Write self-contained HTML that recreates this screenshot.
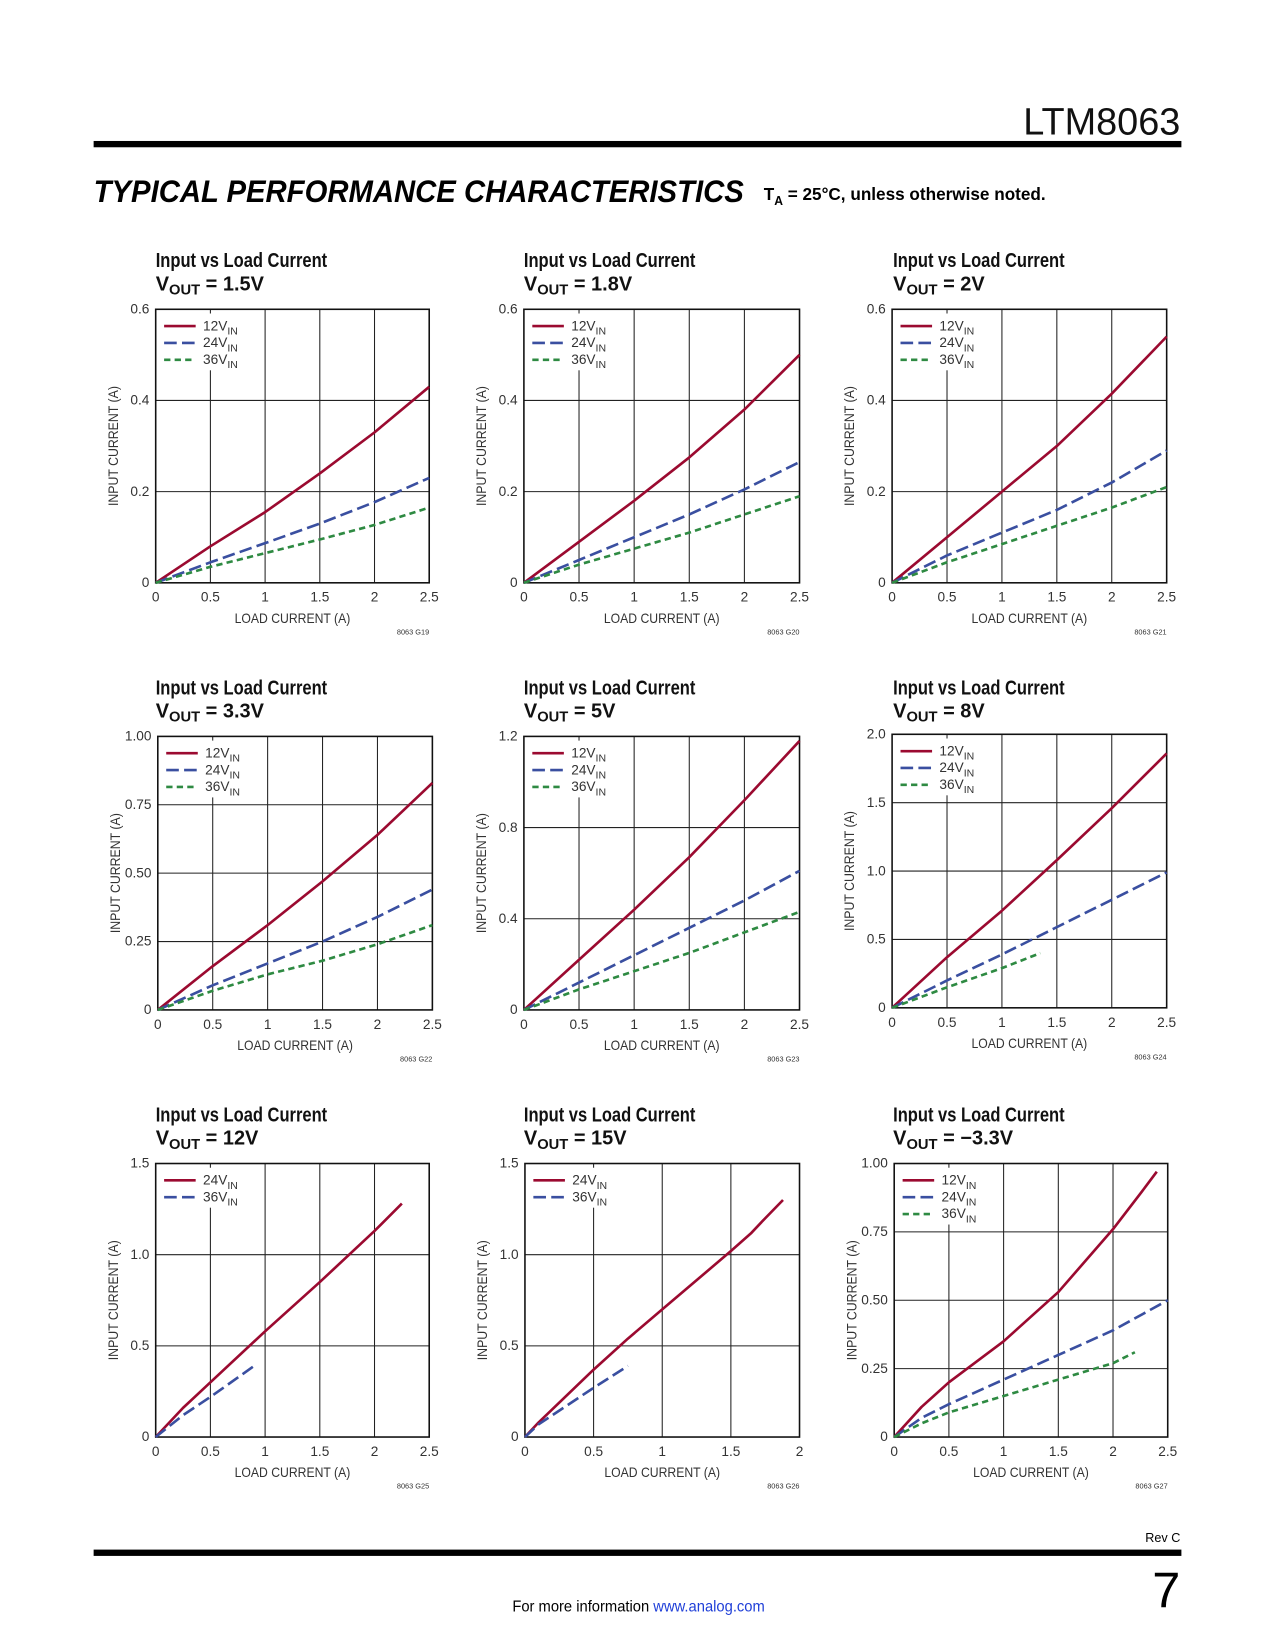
<!DOCTYPE html>
<html><head><meta charset="utf-8"><style>
html,body{margin:0;padding:0;background:#fff;}
svg{display:block;font-family:"Liberation Sans Narrow","Liberation Sans",sans-serif;}
</style></head><body>
<svg id="page" width="1275" height="1650" viewBox="0 0 1275 1650" xmlns="http://www.w3.org/2000/svg">
<g transform="scale(1.052)">
<text x="1122" y="128" text-anchor="end" font-family="Liberation Sans, sans-serif" font-size="36" fill="#111">LTM8063</text>
<rect x="89" y="134" width="1034" height="6" fill="#000"/>
<text x="89" y="192" font-family="Liberation Sans, sans-serif" font-weight="bold" font-style="italic" font-size="30" fill="#000" textLength="618" lengthAdjust="spacingAndGlyphs">TYPICAL PERFORMANCE CHARACTERISTICS</text>
<text x="726" y="190" font-weight="bold" font-size="17" fill="#000" textLength="268" lengthAdjust="spacingAndGlyphs">T<tspan font-size="12" dy="5">A</tspan><tspan dy="-5"> = 25°C, unless otherwise noted.</tspan></text>
<rect x="89" y="1473" width="1034" height="6" fill="#000"/>
<text x="1122" y="1466" text-anchor="end" font-size="12" fill="#000">Rev C</text>
<text x="1122" y="1528" text-anchor="end" font-family="Liberation Sans, sans-serif" font-size="48" fill="#000">7</text>
<text x="487" y="1532" font-size="15" fill="#000" textLength="240" lengthAdjust="spacingAndGlyphs">For more information <tspan fill="#1f3fd8">www.analog.com</tspan></text>
<g id="charts"></g>
</g>
</svg>
<script>
const titles=["1.5V","1.8V","2V","3.3V","5V","8V","12V","15V","\u22123.3V"];
const figIds=["G19","G20","G21","G22","G23","G24","G25","G26","G27"];
const xMaxes=[2.5,2.5,2.5,2.5,2.5,2.5,2.5,2,2.5];
const yMaxes=[0.6,0.6,0.6,1.0,1.2,2.0,1.5,1.5,1.0];
const yTickLabels=[["0","0.2","0.4","0.6"],["0","0.2","0.4","0.6"],["0","0.2","0.4","0.6"],["0","0.25","0.50","0.75","1.00"],["0","0.4","0.8","1.2"],["0","0.5","1.0","1.5","2.0"],["0","0.5","1.0","1.5"],["0","0.5","1.0","1.5"],["0","0.25","0.50","0.75","1.00"]];
const xTickLabels=[["0","0.5","1","1.5","2","2.5"],["0","0.5","1","1.5","2","2.5"],["0","0.5","1","1.5","2","2.5"],["0","0.5","1","1.5","2","2.5"],["0","0.5","1","1.5","2","2.5"],["0","0.5","1","1.5","2","2.5"],["0","0.5","1","1.5","2","2.5"],["0","0.5","1","1.5","2"],["0","0.5","1","1.5","2","2.5"]];
const seriesNames=[["12","24","36"],["12","24","36"],["12","24","36"],["12","24","36"],["12","24","36"],["12","24","36"],["24","36"],["24","36"],["12","24","36"]];
const seriesStyles=[["red","blue","green"],["red","blue","green"],["red","blue","green"],["red","blue","green"],["red","blue","green"],["red","blue","green"],["red","blue"],["red","blue"],["red","blue","green"]];
const xStd=[0,0.5,1,1.5,2,2.5];
const seriesX=[
 [xStd,xStd,xStd],[xStd,xStd,xStd],[xStd,xStd,xStd],[xStd,xStd,xStd],[xStd,xStd,xStd],
 [xStd,xStd,[0,0.5,1,1.35]],
 [[0,0.25,0.5,1,1.5,2,2.25],[0,0.25,0.5,0.9]],
 [[0,0.1,0.5,0.75,1,1.5,1.65,1.75,1.88],[0,0.1,0.5,0.75]],
 [[0,0.25,0.5,1,1.5,2,2.25,2.4],[0,0.25,0.5,1,1.5,2,2.5],[0,0.25,0.5,1,1.5,2,2.2]]
];
const seriesY=[
 [[0,0.08,0.155,0.24,0.33,0.43],[0,0.045,0.087,0.13,0.177,0.23],[0,0.035,0.065,0.095,0.127,0.165]],
 [[0,0.09,0.18,0.275,0.38,0.5],[0,0.05,0.1,0.15,0.205,0.265],[0,0.04,0.075,0.11,0.15,0.19]],
 [[0,0.1,0.2,0.3,0.415,0.54],[0,0.06,0.11,0.16,0.22,0.29],[0,0.045,0.085,0.125,0.165,0.21]],
 [[0,0.16,0.31,0.47,0.64,0.83],[0,0.09,0.17,0.25,0.34,0.44],[0,0.07,0.13,0.18,0.24,0.31]],
 [[0,0.22,0.44,0.67,0.92,1.18],[0,0.12,0.24,0.36,0.48,0.61],[0,0.09,0.17,0.25,0.34,0.43]],
 [[0,0.37,0.71,1.08,1.46,1.86],[0,0.2,0.39,0.59,0.79,0.99],[0,0.15,0.29,0.4]],
 [[0,0.16,0.3,0.58,0.85,1.13,1.28],[0,0.12,0.22,0.39]],
 [[0,0.08,0.37,0.54,0.7,1.02,1.12,1.2,1.3],[0,0.07,0.27,0.39]],
 [[0,0.11,0.2,0.35,0.53,0.76,0.89,0.97],[0,0.07,0.12,0.21,0.3,0.39,0.5],[0,0.05,0.09,0.15,0.21,0.27,0.31]]
];
const boxes=[[148,294,408,554],[498,294,760,554],[848,294,1109,554],[150,700,411,960],[498,700,760,960],[848,698,1109,958],[148,1106,408,1366],[499,1106,760,1366],[850,1106,1110,1366]];
const titleX=[148,498,849,148,498,849,148,498,849];
const titleY=[254,254,254,660,660,660,1066,1066,1066];
const styles={"red":{c:"#9b0a30",d:"",w:2.5},"blue":{c:"#3a4fa0",d:"12,5",w:2.5},"green":{c:"#2e8a42",d:"6,4",w:2.5}};
const NS="http://www.w3.org/2000/svg";
const root=document.getElementById("charts");
function mk(tag,attrs,parent){const e=document.createElementNS(NS,tag);for(const k in attrs)e.setAttribute(k,attrs[k]);parent.appendChild(e);return e;}
for(let i=0;i<9;i++){
 const [x0,y0,x1,y1]=boxes[i];
 const xs=v=>x0+(v/xMaxes[i])*(x1-x0);
 const ys=v=>y1-(v/yMaxes[i])*(y1-y0);
 const g=mk("g",{},root);
 
 
 const t1=mk("text",{x:titleX[i],y:titleY[i],"font-weight":"bold","font-size":"19",fill:"#111",textLength:"163",lengthAdjust:"spacingAndGlyphs"},g);
 t1.textContent="Input vs Load Current";
 
 
 const t2=mk("text",{x:titleX[i],y:titleY[i]+22,"font-weight":"bold","font-size":"19",fill:"#111"},g);
 t2.innerHTML='V<tspan font-size="14" dy="4">OUT</tspan><tspan dy="-4"> = '+titles[i]+'</tspan>';
 
 
 const xt=xTickLabels[i], yt=yTickLabels[i];
 xt.forEach((lab,k)=>{
  const v=xMaxes[i]*k/(xt.length-1), X=xs(v);
  if(k>0&&k<xt.length-1){const l=mk("line",{x1:X,y1:y0,x2:X,y2:y1,stroke:"#222","stroke-width":1},g);}
  const t=mk("text",{x:X,y:y1+18,"text-anchor":"middle","font-size":"13",fill:"#333"},g);t.textContent=lab;
  
 });
 yt.forEach((lab,k)=>{
  const v=yMaxes[i]*k/(yt.length-1), Y=ys(v);
  if(k>0&&k<yt.length-1){const l=mk("line",{x1:x0,y1:Y,x2:x1,y2:Y,stroke:"#222","stroke-width":1},g);}
  const t=mk("text",{x:x0-6,y:Y+4,"text-anchor":"end","font-size":"13",fill:"#333"},g);t.textContent=lab;
  
 });
 const fr=mk("rect",{x:x0,y:y0,width:x1-x0,height:y1-y0,fill:"none",stroke:"#111","stroke-width":1.5},g);
 
 const nS=seriesNames[i].length;
 const lb=mk("rect",{x:x0+4,y:y0+4,width:82,height:nS*16+6,fill:"#fff"},g);
 
 seriesNames[i].forEach((nm,s)=>{
  const st=styles[seriesStyles[i][s]];
  const pts=seriesX[i][s].map((xv,k)=>xs(xv).toFixed(1)+","+ys(seriesY[i][s][k]).toFixed(1)).join(" ");
  const p=mk("polyline",{points:pts,fill:"none",stroke:st.c,"stroke-width":st.w,"stroke-dasharray":st.d,"stroke-linejoin":"round"},g);
  
  const LY=y0+16+s*16;
  const ll=mk("line",{x1:x0+8,y1:LY,x2:x0+38,y2:LY,stroke:st.c,"stroke-width":st.w,"stroke-dasharray":st.d},g);
  
  const lt=mk("text",{x:x0+45,y:LY+4,"font-size":"13",fill:"#333"},g);
  lt.innerHTML=nm+'V<tspan font-size="10" dy="4">IN</tspan>';
  
 });
 const xl=mk("text",{x:(x0+x1)/2,y:y1+38,"text-anchor":"middle","font-size":"13",fill:"#333",textLength:"110",lengthAdjust:"spacingAndGlyphs"},g);
 xl.textContent="LOAD CURRENT (A)";
 
 const cy=(y0+y1)/2, cx=x0-36;
 const yl=mk("text",{x:cx,y:cy,"text-anchor":"middle","font-size":"13",fill:"#333",transform:"rotate(-90 "+cx+" "+cy+")",textLength:"114",lengthAdjust:"spacingAndGlyphs"},g);
 yl.textContent="INPUT CURRENT (A)";
 
 const fid=mk("text",{x:x1,y:y1+49,"text-anchor":"end","font-size":"7",fill:"#333"},g);
 fid.textContent="8063 "+figIds[i];
 
}
</script>
</body></html>
